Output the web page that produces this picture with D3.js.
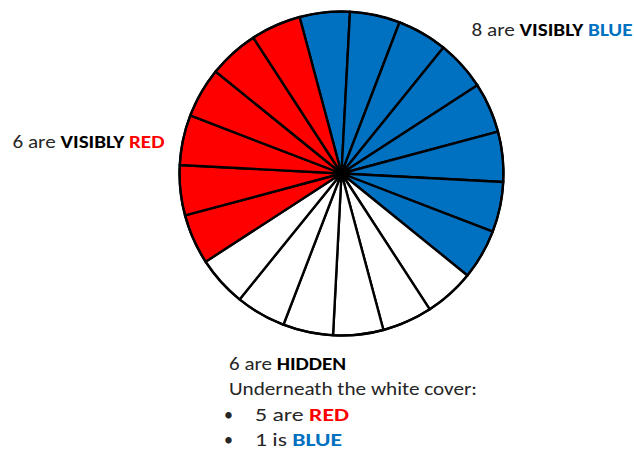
<!DOCTYPE html>
<html><head><meta charset="utf-8">
<script src="https://cdn.jsdelivr.net/npm/d3@7"></script>
<style>
html,body{margin:0;padding:0;background:#fff;}
svg{display:block;}
text{font-family:Carlito, Calibri, Lato, "Open Sans", sans-serif;}
</style></head>
<body>
<svg id="chart" width="634" height="452"></svg>
<script>
// Data
const categories = ["Visibly blue", "Hidden", "Visibly red"];
const counts = [8, 6, 6];
const colors = ["#0070C0", "#FFFFFF", "#FF0000"];
const hiddenRed = 5, hiddenBlue = 1;

// one unit slice per item
const slices = [];
categories.forEach((c, i) => { for (let k = 0; k < counts[i]; k++) slices.push({cat: c, color: colors[i], value: 1}); });

const svg = d3.select("#chart");
const cx = 341.5, cy = 173.5, R = 162;
const start = -15 * Math.PI / 180;

const pie = d3.pie().value(d => d.value).sort(null)
  .startAngle(start).endAngle(start + 2 * Math.PI);
const arc = d3.arc().innerRadius(0).outerRadius(R);

const g = svg.append("g").attr("transform", `translate(${cx},${cy})`);
g.selectAll("path").data(pie(slices)).join("path")
  .attr("d", arc)
  .attr("fill", d => d.data.color)
  .attr("stroke", "#000")
  .attr("stroke-width", 2.4)
  .attr("stroke-linejoin", "round");
g.append("circle").attr("r", R).attr("fill", "none").attr("stroke", "#000").attr("stroke-width", 2.2);
g.append("circle").attr("r", 6).attr("fill", "#000");

// Labels
const dark = "#262626";
const fs = 18;
function label(x, y, parts, targetW) {
  const t = svg.append("text").attr("x", x).attr("y", y).attr("font-size", fs);
  parts.forEach(p => t.append("tspan").text(p.t)
    .attr("font-weight", p.b ? 700 : 400)
    .attr("fill", p.c || dark));
  if (targetW) {
    t.attr("textLength", targetW).attr("lengthAdjust", "spacingAndGlyphs");
  }
  return t;
}
label(12.5, 148, [{t: `${counts[2]} are `}, {t: "VISIBLY ", b: 1, c: "#000"}, {t: "RED", b: 1, c: "#FF0000"}], 152);
label(471.5, 36, [{t: `${counts[0]} are `}, {t: "VISIBLY ", b: 1, c: "#000"}, {t: "BLUE", b: 1, c: "#0070C0"}], 161);
label(229, 370, [{t: `${counts[1]} are `}, {t: "HIDDEN", b: 1, c: "#000"}], 117);
label(229, 395, [{t: "Underneath the white cover:"}], 248);
label(224, 421, [{t: "•"}]);
label(224, 446, [{t: "•"}]);
label(255, 421, [{t: `${hiddenRed} are `}, {t: "RED", b: 1, c: "#FF0000"}], 94);
label(255, 446, [{t: `${hiddenBlue} is `}, {t: "BLUE", b: 1, c: "#0070C0"}], 87);
</script>
</body></html>
